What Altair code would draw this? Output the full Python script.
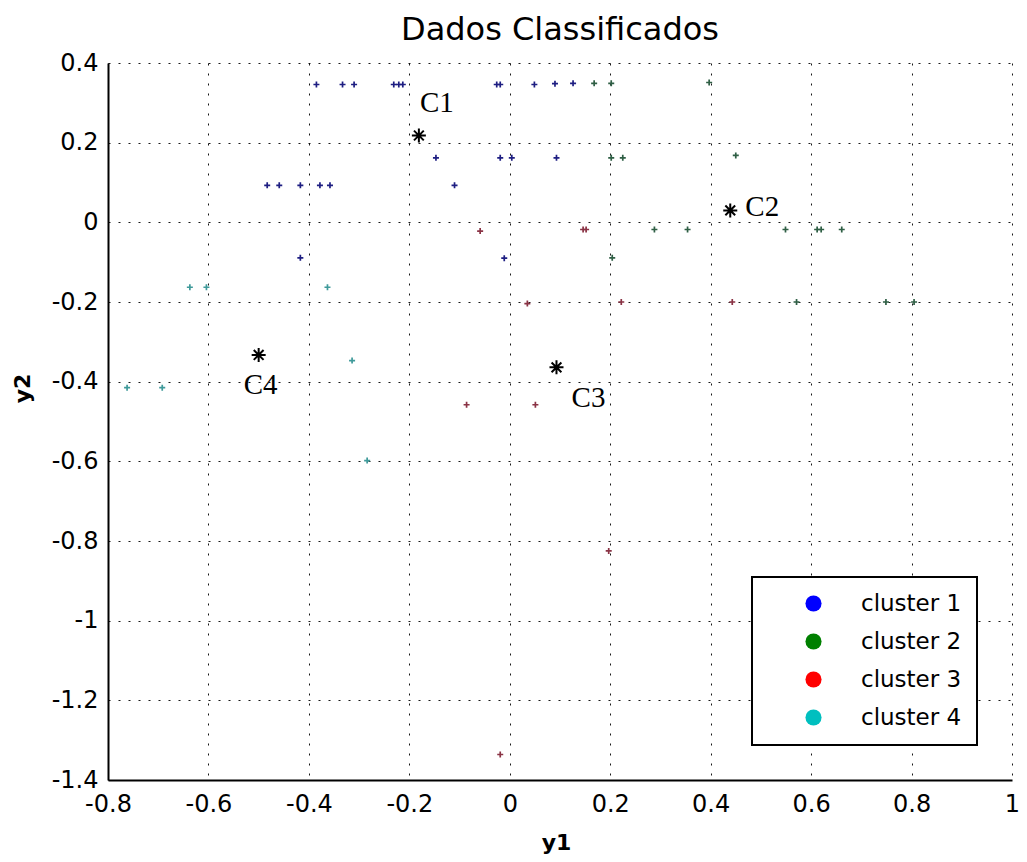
import altair as alt
import pandas as pd

# ---- data ----
cluster_names = ["cluster 1", "cluster 2", "cluster 3", "cluster 4"]
legend_colors = ["#0000ff", "#008000", "#ff0000", "#00bfbf"]
point_colors = ["#1e1e82", "#2f5f45", "#8a3345", "#3f9a9a"]

c1_x = [-0.385, -0.333, -0.310, -0.231, -0.221, -0.213, -0.026, -0.019, 0.049, 0.090, 0.126,
        -0.147, -0.019, 0.004, 0.093,
        -0.483, -0.459, -0.417, -0.378, -0.358, -0.110,
        -0.417, -0.011]
c1_y = [0.346, 0.346, 0.346, 0.346, 0.346, 0.346, 0.346, 0.346, 0.346, 0.348, 0.349,
        0.162, 0.162, 0.162, 0.162,
        0.093, 0.093, 0.093, 0.093, 0.093, 0.093,
        -0.089, -0.090]

c2_x = [0.168, 0.202, 0.397,
        0.202, 0.225, 0.450,
        0.288, 0.354, 0.549, 0.612, 0.620, 0.661,
        0.204,
        0.571, 0.749, 0.805]
c2_y = [0.349, 0.349, 0.351,
        0.162, 0.162, 0.168,
        -0.018, -0.018, -0.018, -0.018, -0.018, -0.018,
        -0.089,
        -0.200, -0.200, -0.200]

c3_x = [-0.059, 0.146, 0.152, 0.035, 0.222, 0.443, -0.086, 0.051, 0.197, -0.019]
c3_y = [-0.022, -0.018, -0.018, -0.204, -0.200, -0.200, -0.458, -0.458, -0.825, -1.336]

c4_x = [-0.637, -0.604, -0.363, -0.314, -0.762, -0.692, -0.284]
c4_y = [-0.163, -0.163, -0.163, -0.347, -0.415, -0.415, -0.598]

centroid_names = ["C1", "C2", "C3", "C4"]
centroid_x = [-0.181, 0.439, 0.093, -0.500]
centroid_y = [0.218, 0.030, -0.364, -0.333]
label_dx = [18, 32, 32, 2]
label_dy = [-32, -3, 31, 30]

x_ticks = [-0.8, -0.6, -0.4, -0.2, 0, 0.2, 0.4, 0.6, 0.8, 1]
y_ticks = [-1.4, -1.2, -1, -0.8, -0.6, -0.4, -0.2, 0, 0.2, 0.4]

# ---- tables ----
rows = []
for name, xs, ys in zip(cluster_names, [c1_x, c2_x, c3_x, c4_x], [c1_y, c2_y, c3_y, c4_y]):
    for xv, yv in zip(xs, ys):
        rows.append({"cluster": name, "y1": xv, "y2": yv})
pts = pd.DataFrame(rows)
cent = pd.DataFrame({"name": centroid_names, "y1": centroid_x, "y2": centroid_y})

font = "DejaVu Sans"
xscale = alt.Scale(domain=[-0.8, 1], nice=False, zero=False)
yscale = alt.Scale(domain=[-1.4, 0.4], nice=False, zero=False)

xaxis = alt.Axis(values=x_ticks, labelExpr="datum.value + ''", title="y1", labelFlush=False,
                 labelPadding=12,
                 titleX=448, titleY=62, titleBaseline="middle", titleAnchor="start",
                 titleAlign="center")
yaxis = alt.Axis(values=y_ticks, labelExpr="datum.value + ''", title="y2", labelFlush=False,
                 titleX=-86, titleY=325, titleAngle=270, titleBaseline="middle",
                 titleAlign="center", titleAnchor="start")

legend = alt.Legend(
    title=None, orient="none", legendX=644, legendY=514,
    strokeColor="black", fillColor="white", padding=15,
    symbolOffset=35, labelOffset=36, rowPadding=14,
    symbolType="circle", symbolSize=260, symbolStrokeWidth=0, symbolOpacity=1,
    labelFont=font, labelFontSize=23, labelColor="black",
)

points = alt.Chart(pts).mark_point(
    shape="M-1,0H1M0,-1V1", filled=False, size=36, strokeWidth=1.7, opacity=1
).encode(
    x=alt.X("y1:Q", scale=xscale, axis=xaxis),
    y=alt.Y("y2:Q", scale=yscale, axis=yaxis),
    stroke=alt.Stroke("cluster:N", scale=alt.Scale(domain=cluster_names, range=point_colors),
                      legend=None),
)

# invisible layer (size 0) that only carries the legend with the legend colours
legend_layer = alt.Chart(pts).mark_circle(opacity=1, size=0).encode(
    x=alt.X("y1:Q", scale=xscale),
    y=alt.Y("y2:Q", scale=yscale),
    fill=alt.Fill("cluster:N", scale=alt.Scale(domain=cluster_names, range=legend_colors),
                  legend=legend),
)

stars = alt.Chart(cent).mark_point(
    shape="M-1,0H1M0,-1V1M-0.7,-0.7L0.7,0.7M-0.7,0.7L0.7,-0.7",
    filled=False, size=196, strokeWidth=2, color="black", opacity=1
).encode(x=alt.X("y1:Q", scale=xscale), y=alt.Y("y2:Q", scale=yscale))

labels = []
for i in range(len(centroid_names)):
    labels.append(
        alt.Chart(cent.iloc[[i]]).mark_text(
            font="Liberation Serif", fontSize=29, color="black",
            dx=label_dx[i], dy=label_dy[i], align="center", baseline="middle"
        ).encode(x=alt.X("y1:Q", scale=xscale), y=alt.Y("y2:Q", scale=yscale), text="name:N")
    )

chart = alt.layer(legend_layer, points, stars, *labels).properties(
    width=904, height=717,
    title=alt.TitleParams("Dados Classificados", font=font, fontSize=32, fontWeight="normal",
                          color="black", anchor="middle", offset=4),
    autosize=alt.AutoSizeParams(type="none"),
    padding={"left": 100, "top": 55, "right": 7, "bottom": 74},
).configure_view(stroke=None).configure_axis(
    grid=True, gridColor="#000000", gridDash=[2, 8], gridWidth=1, gridOpacity=0.9,
    domainColor="black", domainWidth=2, ticks=False,
    labelFont=font, labelFontSize=24, labelColor="black", labelPadding=10,
    titleFont=font, titleFontSize=22, titleFontWeight="bold", titleColor="black",
).configure_legend(strokeWidth=2)

chart.save("out.html", embed_options={"renderer": "svg", "actions": False})
